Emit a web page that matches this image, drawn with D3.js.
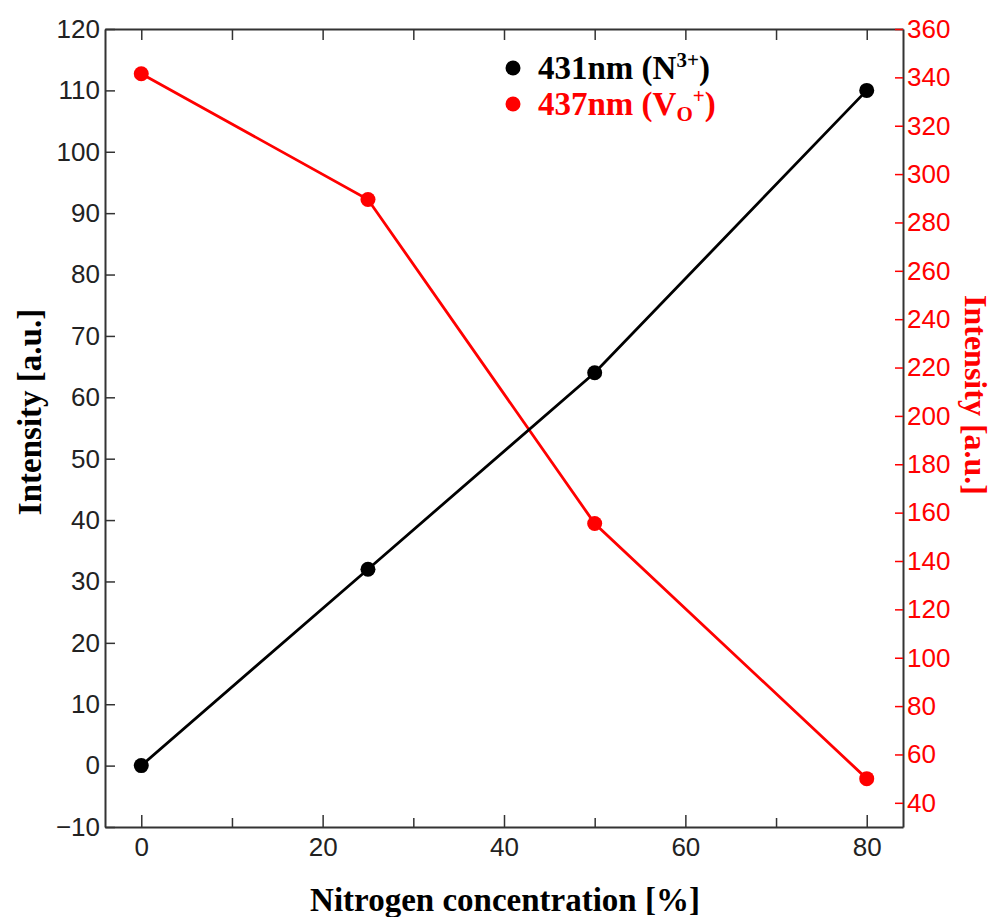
<!DOCTYPE html>
<html>
<head>
<meta charset="utf-8">
<script src="https://cdn.jsdelivr.net/npm/d3@7"></script>
<style>
  body { margin: 0; background: #fff; }
</style>
</head>
<body>
<div id="chart"></div>
<script>
// data
var concentration = [0, 25, 50, 80];
var n3Intensity = [0, 32, 64, 110];        // 431nm, left axis
var voIntensity = [341.5, 289.5, 155.5, 50]; // 437nm, right axis

var xTicks = [0, 20, 40, 60, 80];
var xMinorTicks = [0, 10, 20, 30, 40, 50, 60, 70, 80];
var leftTicks = [-10, 0, 10, 20, 30, 40, 50, 60, 70, 80, 90, 100, 110, 120];
var rightTicks = [40, 60, 80, 100, 120, 140, 160, 180, 200, 220, 240, 260, 280, 300, 320, 340, 360];

var width = 995, height = 917;
var margin = {top: 29, right: 92, bottom: 90, left: 105};
var w = width - margin.left - margin.right,
    h = height - margin.top - margin.bottom;

var svg = d3.select("#chart").append("svg")
    .attr("width", width)
    .attr("height", height);

var g = svg.append("g")
    .attr("transform", "translate(" + margin.left + "," + margin.top + ")");

var x = d3.scaleLinear().domain([-4, 84]).range([0, w]);
var yL = d3.scaleLinear().domain([-10, 120]).range([h, 0]);
var yR = d3.scaleLinear().domain([30, 360]).range([h, 0]);

var axisColor = "#333";

// bottom axis (ticks pointing inside)
var bottomAx = g.append("g")
    .attr("transform", "translate(0," + h + ")")
    .call(d3.axisBottom(x).tickValues(xMinorTicks).tickSizeInner(-11).tickSizeOuter(0).tickPadding(11)
      .tickFormat(function(d){ return xTicks.indexOf(d) >= 0 ? d : ""; }));
bottomAx.selectAll(".tick line").attr("y2", function(d){ return xTicks.indexOf(d) >= 0 ? -12 : -9; });

// top axis ticks
var topAx = g.append("g")
    .call(d3.axisTop(x).tickValues(xMinorTicks).tickSizeInner(-11).tickSizeOuter(0).tickFormat(""));

// left axis
var leftAx = g.append("g")
    .call(d3.axisLeft(yL).tickValues(leftTicks).tickSizeInner(-10).tickSizeOuter(0).tickPadding(16));
leftAx.selectAll(".tick text").attr("x", -5);

// right axis
var rightAx = g.append("g")
    .attr("transform", "translate(" + w + ",0)")
    .call(d3.axisRight(yR).tickValues(rightTicks).tickSizeInner(-8).tickSizeOuter(0).tickPadding(14));
rightAx.selectAll(".tick text").attr("x", 4).attr("fill", "#ff0000");
rightAx.selectAll(".tick line").attr("stroke", "#ff0000");

[bottomAx, topAx, leftAx].forEach(function(a){
  a.select(".domain").attr("stroke", axisColor).attr("stroke-width", 2);
  a.selectAll(".tick line").attr("stroke", axisColor).attr("stroke-width", 1.5);
});
rightAx.select(".domain").attr("stroke", axisColor).attr("stroke-width", 2);
rightAx.selectAll(".tick line").attr("stroke-width", 1.5);

[bottomAx, leftAx, rightAx].forEach(function(a){
  a.selectAll(".tick text")
    .attr("font-size", 26)
    .attr("font-family", "'Liberation Sans', Arial, sans-serif");
});
leftAx.selectAll(".tick text").attr("fill", "#222").text(function(d){ return d < 0 ? "\u2212" + Math.abs(d) : d; });
bottomAx.selectAll(".tick text").attr("fill", "#222");

// series
var lineL = d3.line().x(function(d, i){ return x(concentration[i]); }).y(function(d){ return yL(d); });
var lineR = d3.line().x(function(d, i){ return x(concentration[i]); }).y(function(d){ return yR(d); });

g.append("path").datum(voIntensity)
  .attr("d", lineR).attr("fill", "none").attr("stroke", "#ff0000").attr("stroke-width", 2.8);
g.selectAll(".ptR").data(voIntensity).enter().append("circle")
  .attr("cx", function(d, i){ return x(concentration[i]); })
  .attr("cy", function(d){ return yR(d); })
  .attr("r", 7.5).attr("fill", "#ff0000");

g.append("path").datum(n3Intensity)
  .attr("d", lineL).attr("fill", "none").attr("stroke", "#000").attr("stroke-width", 2.8);
g.selectAll(".ptL").data(n3Intensity).enter().append("circle")
  .attr("cx", function(d, i){ return x(concentration[i]); })
  .attr("cy", function(d){ return yL(d); })
  .attr("r", 7.5).attr("fill", "#000");

// axis titles
var serif = "'Liberation Serif', 'Times New Roman', serif";
svg.append("text")
  .attr("transform", "translate(41,412) rotate(-90)")
  .attr("text-anchor", "middle")
  .attr("font-family", serif).attr("font-weight", "bold").attr("font-size", 33)
  .text("Intensity [a.u.]");

svg.append("text")
  .attr("transform", "translate(965,395) rotate(90)")
  .attr("text-anchor", "middle")
  .attr("font-family", serif).attr("font-weight", "bold").attr("font-size", 32)
  .attr("fill", "#ff0000")
  .text("Intensity [a.u.]");

svg.append("text")
  .attr("x", 505).attr("y", 911)
  .attr("text-anchor", "middle")
  .attr("font-family", serif).attr("font-weight", "bold").attr("font-size", 33)
  .text("Nitrogen concentration [%]");

// legend
var legend = svg.append("g").attr("font-family", serif).attr("font-weight", "bold").attr("font-size", 33);
legend.append("circle").attr("cx", 513).attr("cy", 68).attr("r", 7.5).attr("fill", "#000");
var t1 = legend.append("text").attr("x", 538).attr("y", 79).attr("fill", "#000");
t1.append("tspan").text("431nm (N");
t1.append("tspan").attr("font-size", 21).attr("dy", -12).text("3+");
t1.append("tspan").attr("dy", 12).text(")");

legend.append("circle").attr("cx", 513).attr("cy", 104).attr("r", 7.5).attr("fill", "#ff0000");
var t2 = legend.append("text").attr("x", 538).attr("y", 115).attr("fill", "#ff0000");
t2.append("tspan").text("437nm (V");
t2.append("tspan").attr("font-size", 21).attr("dy", 6).text("O");
t2.append("tspan").attr("font-size", 21).attr("dy", -18).text("+");
t2.append("tspan").attr("dy", 12).text(")");
</script>
</body>
</html>
